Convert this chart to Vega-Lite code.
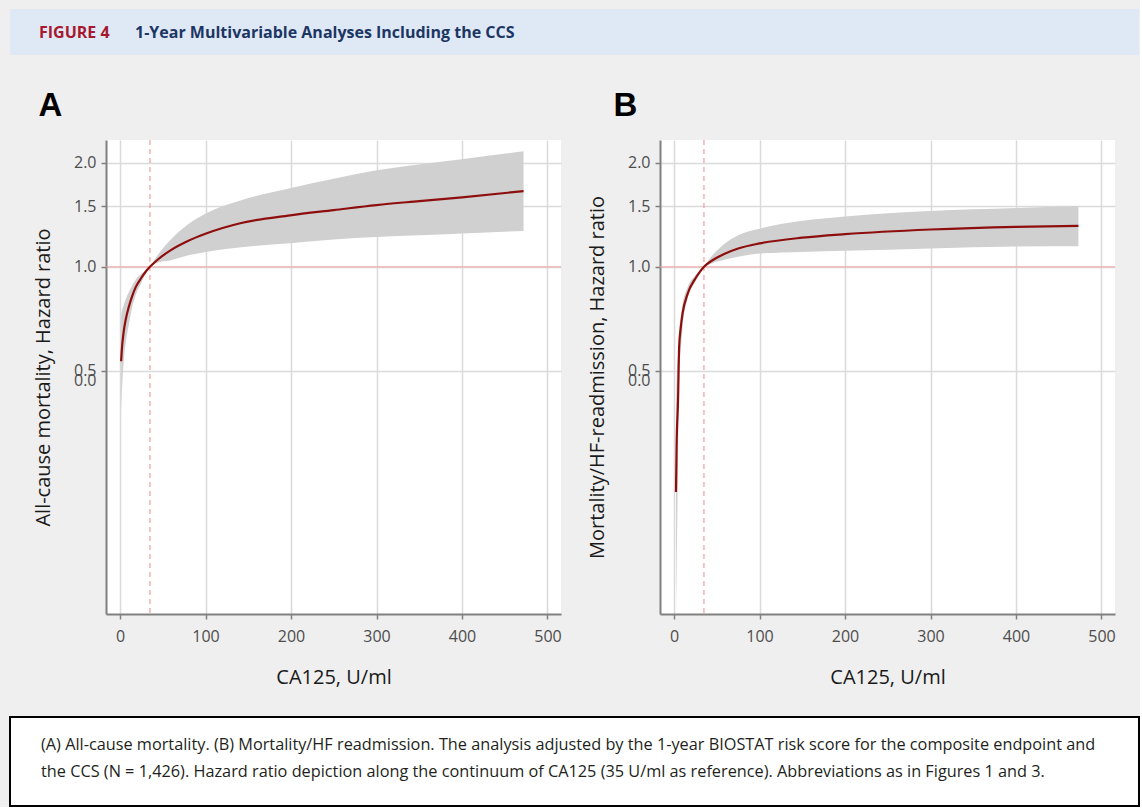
{
  "$schema": "https://vega.github.io/schema/vega-lite/v6.json",
  "background": "#efefef",
  "padding": {"left": 9, "top": 9, "right": 0, "bottom": 0},
  "datasets": {
    "a": [
      {"ca125": 1.3, "hr": 0.533, "lo": 0.38, "hi": 0.72},
      {"ca125": 2, "hr": 0.57, "lo": 0.42, "hi": 0.74},
      {"ca125": 4, "hr": 0.641, "lo": 0.52, "hi": 0.77},
      {"ca125": 7, "hr": 0.71, "lo": 0.61, "hi": 0.81},
      {"ca125": 10.3, "hr": 0.766, "lo": 0.68, "hi": 0.845},
      {"ca125": 14, "hr": 0.82, "lo": 0.76, "hi": 0.88},
      {"ca125": 18.5, "hr": 0.875, "lo": 0.83, "hi": 0.92},
      {"ca125": 25, "hr": 0.93, "lo": 0.9, "hi": 0.955},
      {"ca125": 30, "hr": 0.968, "lo": 0.955, "hi": 0.98},
      {"ca125": 35, "hr": 1.0, "lo": 0.995, "hi": 1.005},
      {"ca125": 45, "hr": 1.054, "lo": 1.03, "hi": 1.09},
      {"ca125": 59.5, "hr": 1.118, "lo": 1.045, "hi": 1.2},
      {"ca125": 80, "hr": 1.19, "lo": 1.08, "hi": 1.33},
      {"ca125": 100.7, "hr": 1.249, "lo": 1.105, "hi": 1.43},
      {"ca125": 141.8, "hr": 1.34, "lo": 1.14, "hi": 1.56},
      {"ca125": 199, "hr": 1.41, "lo": 1.17, "hi": 1.69},
      {"ca125": 250, "hr": 1.46, "lo": 1.2, "hi": 1.8},
      {"ca125": 300, "hr": 1.51, "lo": 1.22, "hi": 1.905},
      {"ca125": 350, "hr": 1.55, "lo": 1.235, "hi": 1.98},
      {"ca125": 400, "hr": 1.59, "lo": 1.25, "hi": 2.05},
      {"ca125": 472, "hr": 1.657, "lo": 1.27, "hi": 2.16}
    ],
    "b": [
      {"ca125": 2.3, "hr": 0.223, "lo": 0.1, "hi": 0.4},
      {"ca125": 3, "hr": 0.3, "lo": 0.13, "hi": 0.47},
      {"ca125": 4.7, "hr": 0.411, "lo": 0.28, "hi": 0.56},
      {"ca125": 6, "hr": 0.587, "lo": 0.49, "hi": 0.656},
      {"ca125": 8, "hr": 0.67, "lo": 0.58, "hi": 0.72},
      {"ca125": 10, "hr": 0.733, "lo": 0.67, "hi": 0.78},
      {"ca125": 16, "hr": 0.837, "lo": 0.81, "hi": 0.875},
      {"ca125": 25, "hr": 0.925, "lo": 0.905, "hi": 0.945},
      {"ca125": 30, "hr": 0.965, "lo": 0.955, "hi": 0.975},
      {"ca125": 35, "hr": 1.0, "lo": 0.995, "hi": 1.005},
      {"ca125": 45, "hr": 1.045, "lo": 1.025, "hi": 1.08},
      {"ca125": 58, "hr": 1.088, "lo": 1.046, "hi": 1.16},
      {"ca125": 75, "hr": 1.13, "lo": 1.07, "hi": 1.235},
      {"ca125": 100, "hr": 1.169, "lo": 1.093, "hi": 1.29},
      {"ca125": 150, "hr": 1.215, "lo": 1.105, "hi": 1.36},
      {"ca125": 200, "hr": 1.244, "lo": 1.113, "hi": 1.4},
      {"ca125": 300, "hr": 1.283, "lo": 1.13, "hi": 1.452},
      {"ca125": 400, "hr": 1.306, "lo": 1.145, "hi": 1.48},
      {"ca125": 473, "hr": 1.314, "lo": 1.148, "hi": 1.5}
    ],
    "refs": [{"hrRef": 1, "caRef": 35}]
  },
  "vconcat": [
    {
      "hconcat": [
        {
          "width": 125, "height": 46,
          "view": {"fill": "#dfe9f5", "stroke": null},
          "data": {"values": []},
          "mark": {"type": "point", "opacity": 0},
          "encoding": {},
          "title": {"text": "FIGURE 4", "anchor": "start", "dx": 29, "offset": -32, "color": "#a6192e", "fontSize": 16, "font": "Open Sans", "fontWeight": "bold"}
        },
        {
          "width": 1004, "height": 46,
          "view": {"fill": "#dfe9f5", "stroke": null},
          "data": {"values": []},
          "mark": {"type": "point", "opacity": 0},
          "encoding": {},
          "title": {"text": "1-Year Multivariable Analyses Including the CCS", "anchor": "start", "dx": 0, "offset": -32, "color": "#1c3664", "fontSize": 16, "font": "Open Sans", "fontWeight": "bold"}
        }
      ],
      "spacing": 0
    },
    {
      "vconcat": [
        {
          "hconcat": [
            {
              "width": 1, "height": 474,
              "view": {"fill": null, "stroke": null},
              "data": {"values": []},
              "mark": {"type": "point", "opacity": 0},
              "encoding": {}
            },
            {
              "hconcat": [
                {
                  "width": 455, "height": 474,
                  "title": {"text": "A", "anchor": "start", "dx": 5, "offset": 16, "fontSize": 33, "font": "Liberation Sans", "fontWeight": "bold", "color": "#000000"},
                  "layer": [
                    {
                      "data": {"name": "a"},
                      "mark": {"type": "area", "color": "#d0d0d0", "clip": true, "interpolate": "monotone"},
                      "encoding": {
                        "x": {"field": "ca125", "type": "quantitative", "scale": {"domain": [-16.4, 515.8], "nice": false, "zero": false}, "axis": {"values": [0, 100, 200, 300, 400, 500], "title": "CA125, U/ml"}},
                        "y": {"field": "lo", "type": "quantitative", "scale": {"type": "log", "domain": [0.0988, 2.33], "nice": false}, "axis": {"values": [0.5, 1, 1.5, 2], "title": "All-cause mortality, Hazard ratio", "labelExpr": "datum.value == 0.5 ? ['0.5', '0.0'] : format(datum.value, '.1f')"}},
                        "y2": {"field": "hi"}
                      }
                    },
                    {
                      "data": {"name": "refs"},
                      "mark": {"type": "rule", "color": "#f3a0a0", "strokeWidth": 1},
                      "encoding": {"y": {"field": "hrRef", "type": "quantitative"}}
                    },
                    {
                      "data": {"name": "refs"},
                      "mark": {"type": "rule", "color": "#f3a0a0", "strokeWidth": 1.2, "strokeDash": [5, 4]},
                      "encoding": {"x": {"field": "caRef", "type": "quantitative"}}
                    },
                    {
                      "data": {"name": "a"},
                      "mark": {"type": "line", "color": "#8e0e0e", "strokeWidth": 2.2, "clip": true, "interpolate": "monotone"},
                      "encoding": {
                        "x": {"field": "ca125", "type": "quantitative"},
                        "y": {"field": "hr", "type": "quantitative"}
                      }
                    }
                  ]
                },
                {
                  "width": 455, "height": 474,
                  "title": {"text": "B", "anchor": "start", "dx": 26, "offset": 16, "fontSize": 33, "font": "Liberation Sans", "fontWeight": "bold", "color": "#000000"},
                  "layer": [
                    {
                      "data": {"name": "b"},
                      "mark": {"type": "area", "color": "#d0d0d0", "clip": true, "interpolate": "monotone"},
                      "encoding": {
                        "x": {"field": "ca125", "type": "quantitative", "scale": {"domain": [-16.4, 515.8], "nice": false, "zero": false}, "axis": {"values": [0, 100, 200, 300, 400, 500], "title": "CA125, U/ml"}},
                        "y": {"field": "lo", "type": "quantitative", "scale": {"type": "log", "domain": [0.0988, 2.33], "nice": false}, "axis": {"values": [0.5, 1, 1.5, 2], "title": "Mortality/HF-readmission, Hazard ratio", "labelExpr": "datum.value == 0.5 ? ['0.5', '0.0'] : format(datum.value, '.1f')"}},
                        "y2": {"field": "hi"}
                      }
                    },
                    {
                      "data": {"name": "refs"},
                      "mark": {"type": "rule", "color": "#f3a0a0", "strokeWidth": 1},
                      "encoding": {"y": {"field": "hrRef", "type": "quantitative"}}
                    },
                    {
                      "data": {"name": "refs"},
                      "mark": {"type": "rule", "color": "#f3a0a0", "strokeWidth": 1.2, "strokeDash": [5, 4]},
                      "encoding": {"x": {"field": "caRef", "type": "quantitative"}}
                    },
                    {
                      "data": {"name": "b"},
                      "mark": {"type": "line", "color": "#8e0e0e", "strokeWidth": 2.2, "clip": true, "interpolate": "monotone"},
                      "encoding": {
                        "x": {"field": "ca125", "type": "quantitative"},
                        "y": {"field": "hr", "type": "quantitative"}
                      }
                    }
                  ]
                }
              ],
              "spacing": 25
            }
          ],
          "spacing": 22
        },
        {
          "width": 1129, "height": 89,
          "view": {"fill": "#ffffff", "stroke": "#000000", "strokeWidth": 2},
          "data": {"values": []},
          "mark": {"type": "point", "opacity": 0},
          "encoding": {},
          "title": {
            "text": [
              "(A) All-cause mortality. (B) Mortality/HF readmission. The analysis adjusted by the 1-year BIOSTAT risk score for the composite endpoint and",
              "the CCS (N = 1,426). Hazard ratio depiction along the continuum of CA125 (35 U/ml as reference). Abbreviations as in Figures 1 and 3."
            ],
            "anchor": "start", "dx": 31, "offset": -63, "lineHeight": 27,
            "fontSize": 16.3, "font": "Open Sans", "fontWeight": "normal", "color": "#231f20"
          }
        }
      ],
      "spacing": 29
    }
  ],
  "spacing": 35,
  "config": {
    "view": {"fill": "#ffffff", "stroke": null},
    "axis": {
      "labelFont": "Open Sans", "titleFont": "Open Sans",
      "labelFontSize": 16, "titleFontSize": 20, "titleFontWeight": "normal",
      "labelColor": "#4d4d4d", "titleColor": "#1a1a1a",
      "gridColor": "#dadada", "gridWidth": 1.5,
      "domainColor": "#808080", "domainWidth": 2,
      "tickColor": "#808080", "tickWidth": 1.5, "tickSize": 5,
      "labelOverlap": false, "labelFlush": false
    },
    "axisX": {"labelPadding": 9, "titlePadding": 23},
    "axisY": {"labelPadding": 5, "titlePadding": 20, "labelLineHeight": 10}
  }
}
